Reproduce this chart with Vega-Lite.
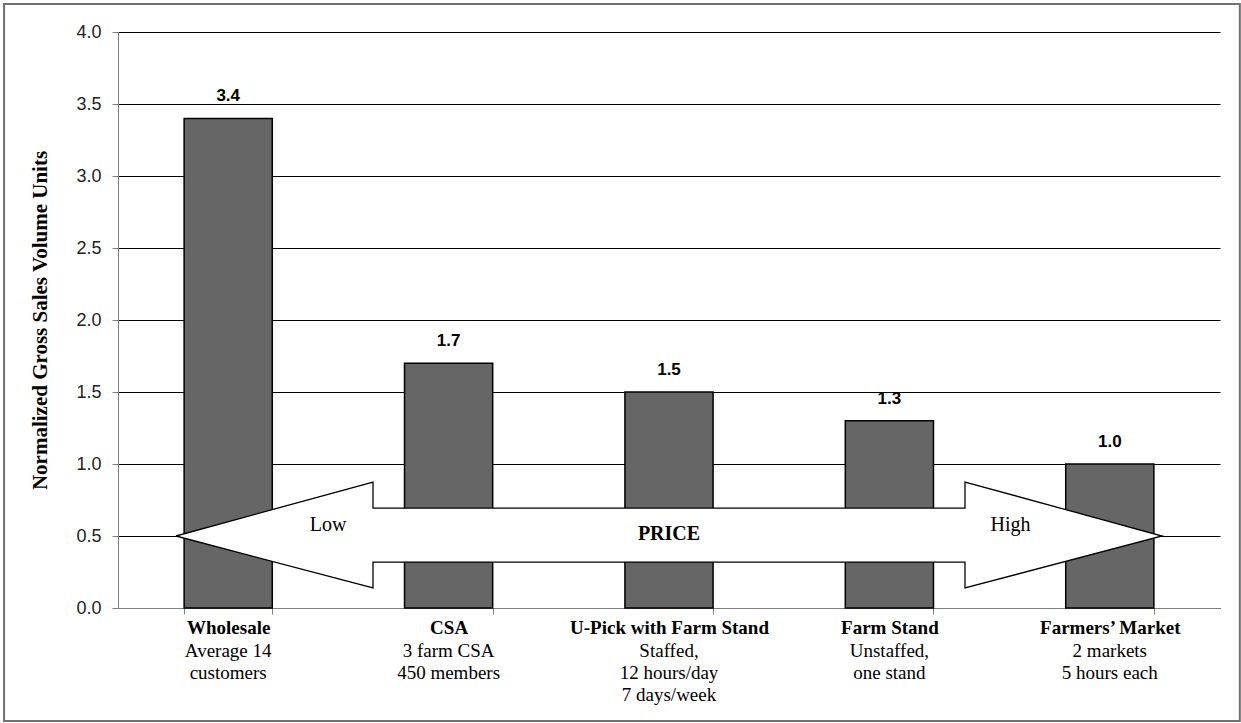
{
  "$schema": "https://vega.github.io/schema/vega-lite/v6.json",
  "width": 1102,
  "height": 576,
  "autosize": "none",
  "padding": {"left": 118, "top": 32, "right": 21, "bottom": 115},
  "background": "white",
  "config": {"view": {"stroke": null}},
  "datasets": {
    "bars": [
      {"name": "Wholesale", "desc": "Average 14|customers", "value": 3.4},
      {"name": "CSA", "desc": "3 farm CSA|450 members", "value": 1.7},
      {"name": "U-Pick with Farm Stand", "desc": "Staffed,|12 hours/day|7 days/week", "value": 1.5},
      {"name": "Farm Stand", "desc": "Unstaffed,|one stand", "value": 1.3},
      {"name": "Farmers’ Market", "desc": "2 markets|5 hours each", "value": 1.0}
    ],
    "arrow": [
      {"o": 1, "ax": 0.263, "ay": 0.5},
      {"o": 2, "ax": 1.157, "ay": 0.875},
      {"o": 3, "ax": 1.157, "ay": 0.694},
      {"o": 4, "ax": 3.843, "ay": 0.694},
      {"o": 5, "ax": 3.843, "ay": 0.875},
      {"o": 6, "ax": 4.737, "ay": 0.5},
      {"o": 7, "ax": 3.843, "ay": 0.139},
      {"o": 8, "ax": 3.843, "ay": 0.319},
      {"o": 9, "ax": 1.157, "ay": 0.319},
      {"o": 10, "ax": 1.157, "ay": 0.139},
      {"o": 11, "ax": 0.263, "ay": 0.5}
    ],
    "ends": [
      {"t": "Low", "lx": 0.953, "ly": 0.576},
      {"t": "High", "lx": 4.05, "ly": 0.576}
    ],
    "mid": [
      {"t": "PRICE", "lx": 2.5, "ly": 0.514}
    ]
  },
  "layer": [
    {
      "data": {"name": "bars"},
      "mark": {"type": "bar", "fill": "#666666", "stroke": "black", "strokeWidth": 1.5},
      "encoding": {
        "x": {
          "field": "name", "type": "nominal", "sort": null,
          "scale": {"type": "band", "paddingInner": 0.6, "paddingOuter": 0.3},
          "axis": {
            "orient": "bottom", "title": null, "labelAngle": 0,
            "labelFont": "Liberation Serif", "labelFontSize": 19, "labelFontWeight": "bold",
            "labelColor": "black", "labelPadding": 4,
            "tickBand": "extent", "tickSize": 6, "tickColor": "#808080",
            "domainColor": "#808080", "grid": false, "labelLimit": 300
          }
        },
        "y": {
          "field": "value", "type": "quantitative",
          "title": "Normalized Gross Sales Volume Units",
          "scale": {"domain": [0, 4], "nice": false},
          "axis": {
            "values": [0, 0.5, 1, 1.5, 2, 2.5, 3, 3.5, 4], "format": ".1f",
            "grid": true, "gridColor": "black", "gridWidth": 1,
            "tickColor": "#808080", "tickSize": 6, "domainColor": "#808080",
            "labelFont": "Liberation Sans", "labelFontSize": 18, "labelColor": "#222222", "labelPadding": 11,
            "titleFont": "Liberation Serif", "titleFontSize": 21, "titleFontWeight": "bold",
            "titleColor": "black", "titlePadding": 25
          }
        }
      }
    },
    {
      "data": {"name": "bars"},
      "mark": {"type": "text", "font": "Liberation Sans", "fontSize": 17, "fontWeight": "bold", "baseline": "bottom", "dy": -13, "color": "black"},
      "encoding": {
        "x": {
          "field": "desc", "type": "nominal", "sort": null,
          "scale": {"type": "band", "paddingInner": 0.6, "paddingOuter": 0.3},
          "axis": {
            "orient": "bottom", "title": null, "labelAngle": 0,
            "labelExpr": "split(datum.label, '|')",
            "labelFont": "Liberation Serif", "labelFontSize": 19, "labelColor": "black",
            "labelLineHeight": 22, "labelPadding": 33, "ticks": false, "tickSize": 0,
            "domain": false, "grid": false, "labelLimit": 300
          }
        },
        "y": {"field": "value", "type": "quantitative", "title": "Normalized Gross Sales Volume Units"},
        "text": {"field": "value", "type": "quantitative", "format": ".1f"}
      }
    },
    {
      "layer": [
        {
          "data": {"name": "arrow"},
          "mark": {"type": "line", "fill": "white", "stroke": "black", "strokeWidth": 1.3, "interpolate": "linear"},
          "encoding": {
            "x": {"field": "ax", "type": "quantitative", "scale": {"domain": [0, 5], "nice": false, "zero": false}, "axis": null},
            "y": {"field": "ay", "type": "quantitative", "title": "Normalized Gross Sales Volume Units"},
            "order": {"field": "o", "type": "quantitative"}
          }
        },
        {
          "data": {"name": "ends"},
          "mark": {"type": "text", "font": "Liberation Serif", "fontSize": 20, "color": "black"},
          "encoding": {
            "x": {"field": "lx", "type": "quantitative"},
            "y": {"field": "ly", "type": "quantitative", "title": "Normalized Gross Sales Volume Units"},
            "text": {"field": "t"}
          }
        },
        {
          "data": {"name": "mid"},
          "mark": {"type": "text", "font": "Liberation Serif", "fontSize": 20, "fontWeight": "bold", "color": "black"},
          "encoding": {
            "x": {"field": "lx", "type": "quantitative"},
            "y": {"field": "ly", "type": "quantitative", "title": "Normalized Gross Sales Volume Units"},
            "text": {"field": "t"}
          }
        },
        {
          "data": {"values": [{}]},
          "mark": {"type": "rect", "fill": null, "filled": false, "stroke": "#707070", "strokeWidth": 2},
          "encoding": {
            "x": {"datum": -0.517, "type": "quantitative"},
            "x2": {"datum": 5.09},
            "y": {"datum": 4.194, "type": "quantitative"},
            "y2": {"datum": -0.785}
          }
        }
      ]
    }
  ],
  "resolve": {"scale": {"x": "independent"}, "axis": {"x": "independent"}}
}
